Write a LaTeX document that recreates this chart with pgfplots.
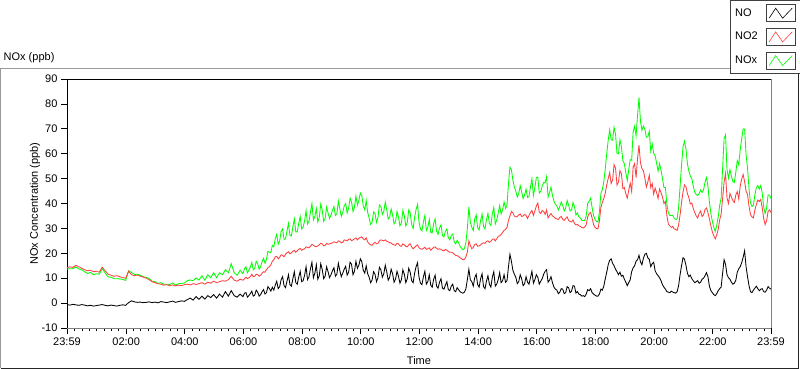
\documentclass[border=0pt]{standalone}
\usepackage{fontspec}
\setmainfont{Liberation Sans}
\usepackage{pgfplots}
\usepackage{pgfplotstable}
\pgfplotsset{compat=1.18}
\definecolor{noxgreen}{RGB}{0,255,0}
\definecolor{notwored}{RGB}{255,64,64}
\newcommand{\chartfont}{\fontsize{11}{13}\selectfont}

\pgfplotstableread{
t NO NO2 NOx
0 -0.6 14.2 13.6
6 -0.8 14.6 13.8
12 -0.5 14.3 13.8
18 -0.7 15.2 14.5
24 -0.9 14.6 13.7
30 -0.6 14.0 13.4
36 -0.8 13.4 12.6
42 -1.1 13.0 11.9
48 -0.9 13.2 12.3
54 -1.2 12.6 11.4
60 -1.0 12.8 11.8
66 -0.8 12.4 11.6
72 -0.6 14.4 13.8
78 -0.9 13.0 12.1
84 -1.1 11.6 10.5
90 -0.8 11.2 10.4
96 -1.0 10.8 9.8
102 -1.2 11.0 9.8
108 -0.9 10.6 9.7
114 -0.7 10.2 9.5
120 -0.9 10.0 9.1
126 0.2 12.8 13.0
132 0.9 11.4 12.3
138 0.5 11.0 11.5
144 0.3 11.3 11.6
150 0.4 10.8 11.2
156 0.2 10.4 10.6
162 0.3 10.0 10.3
168 0.5 9.4 9.9
174 0.2 8.6 8.8
180 0.4 8.2 8.6
186 0.1 7.8 7.9
192 0.6 7.6 8.2
198 0.4 7.2 7.6
204 0.2 7.4 7.6
210 0.5 7.0 7.5
216 0.8 7.3 8.1
222 0.3 6.9 7.2
228 0.6 7.2 7.8
234 0.9 7.0 7.9
240 0.7 7.4 8.1
246 1.4 7.6 9.0
252 2.0 7.3 9.3
258 1.2 7.8 9.0
264 2.6 7.5 10.1
270 1.5 7.8 9.3
276 2.8 8.2 11.0
282 1.6 7.6 9.2
288 3.0 8.4 11.4
294 2.2 8.0 10.2
300 3.4 8.8 12.2
306 2.0 8.2 10.2
312 3.6 8.6 12.2
318 2.4 9.0 11.4
324 4.6 8.8 13.4
330 2.8 9.4 12.2
336 5.0 10.8 15.8
342 3.0 9.2 12.2
348 2.4 8.8 11.2
354 3.6 9.6 13.2
360 2.6 9.2 11.8
363 4.0 9.8 13.8
366 4.2 10.4 14.6
369 2.4 9.8 12.2
372 3.0 10.2 13.2
375 3.8 10.6 14.4
378 4.8 11.6 16.4
381 2.8 10.6 13.4
384 3.2 10.8 14.0
387 5.2 11.6 16.8
390 4.4 11.4 15.8
393 2.8 10.8 13.6
396 3.4 11.2 14.6
399 4.6 12.0 16.6
402 5.4 12.6 18.0
405 3.6 12.4 16.0
408 4.2 13.4 17.6
411 6.6 14.2 20.8
414 5.8 14.6 20.4
417 4.8 15.4 20.2
420 6.4 16.8 23.2
423 5.2 17.4 22.6
426 7.2 18.6 25.8
429 8.8 18.8 27.6
432 5.8 17.8 23.6
435 6.6 18.4 25.0
438 9.4 19.4 28.8
441 10.6 19.2 29.8
444 7.0 18.6 25.6
447 6.2 19.6 25.8
450 8.8 20.2 29.0
453 11.4 20.6 32.0
456 7.4 19.8 27.2
459 6.8 20.2 27.0
462 9.8 20.8 30.6
465 12.6 21.2 33.8
468 8.2 20.4 28.6
471 7.6 21.0 28.6
474 10.4 21.6 32.0
477 12.8 22.0 34.8
480 8.6 21.2 29.8
483 9.0 21.6 30.6
486 11.2 21.8 33.0
489 14.6 22.6 37.2
492 9.4 22.4 31.8
495 10.6 22.2 32.8
498 13.8 22.8 36.6
501 16.4 23.6 40.0
504 10.2 23.2 33.4
507 12.0 22.8 34.8
510 15.4 22.6 38.0
513 9.6 23.0 32.6
516 11.0 23.4 34.4
519 15.8 24.0 39.8
522 13.6 23.8 37.4
525 9.8 23.0 32.8
528 10.8 23.2 34.0
531 14.6 24.0 38.6
534 12.6 23.6 36.2
537 10.2 23.8 34.0
540 11.4 24.0 35.4
543 13.0 24.2 37.2
546 14.2 24.6 38.8
549 10.8 24.4 35.2
552 11.6 24.2 35.8
555 16.0 25.0 41.0
558 13.2 24.8 38.0
561 10.6 24.2 34.8
564 12.0 24.4 36.4
567 13.6 25.4 39.0
570 14.8 25.2 40.0
573 11.2 25.0 36.2
576 12.4 25.6 38.0
579 16.4 25.8 42.2
582 15.6 25.0 40.6
585 11.4 25.4 36.8
588 12.8 25.8 38.6
591 16.8 26.2 43.0
594 14.0 25.4 39.4
597 15.2 26.0 41.2
600 17.8 26.4 44.2
603 16.6 26.6 43.2
606 13.2 25.8 39.0
609 12.0 25.4 37.4
612 15.0 26.2 41.2
615 11.8 24.6 36.4
618 10.4 23.8 34.2
621 8.2 23.4 31.6
624 9.2 23.2 32.4
627 12.6 24.0 36.6
630 11.6 24.4 36.0
633 8.6 23.8 32.4
636 10.2 24.0 34.2
639 14.4 25.0 39.4
642 13.4 25.4 38.8
645 10.4 25.2 35.6
648 11.8 25.0 36.8
651 15.2 25.4 40.6
654 12.6 24.8 37.4
657 9.2 24.6 33.8
660 10.4 24.2 34.6
663 13.6 24.2 37.8
666 11.8 23.6 35.4
669 8.4 23.4 31.8
672 9.6 23.2 32.8
675 12.8 24.0 36.8
678 10.8 23.8 34.6
681 8.0 23.0 31.0
684 9.4 22.8 32.2
687 13.4 23.8 37.2
690 11.6 23.4 35.0
693 8.2 22.8 31.0
696 9.8 22.6 32.4
699 14.0 23.4 37.4
702 12.4 23.8 36.2
705 9.0 22.6 31.6
708 8.2 21.8 30.0
711 12.0 22.4 34.4
714 14.6 23.0 37.6
717 16.2 23.4 39.6
720 10.4 22.2 32.6
723 8.0 21.8 29.8
726 7.4 21.6 29.0
729 10.6 22.0 32.6
732 12.8 22.4 35.2
735 7.6 21.6 29.2
738 8.6 21.8 30.4
741 11.4 22.2 33.6
744 7.2 21.2 28.4
747 6.4 21.8 28.2
750 9.6 22.4 32.0
753 11.2 22.6 33.8
756 6.8 22.0 28.8
759 6.0 21.6 27.6
762 8.4 21.8 30.2
765 9.8 21.6 31.4
768 6.0 21.2 27.2
771 5.6 21.0 26.6
774 7.2 21.6 28.8
777 8.6 21.2 29.8
780 5.4 20.8 26.2
783 5.0 20.4 25.4
786 6.8 20.4 27.2
789 7.6 20.2 27.8
792 5.0 19.6 24.6
795 4.6 19.2 23.8
798 6.2 19.0 25.2
801 5.4 18.8 24.2
804 4.6 18.2 22.8
807 4.2 17.8 22.0
810 4.0 17.4 21.4
813 4.4 17.6 22.0
816 5.8 18.6 24.4
819 9.6 20.6 30.2
822 13.6 25.0 38.6
825 9.4 23.2 32.6
828 8.6 21.8 30.4
831 6.8 22.4 29.2
834 10.2 23.6 33.8
837 11.6 23.8 35.4
840 7.4 22.8 30.2
843 6.4 23.0 29.4
846 9.8 23.4 33.2
849 11.8 24.0 35.8
852 6.6 24.2 30.8
855 5.8 24.0 29.8
858 8.8 24.8 33.6
861 11.0 25.0 36.0
864 7.6 24.4 32.0
867 6.4 24.8 31.2
870 10.4 25.6 36.0
873 12.6 25.8 38.4
876 6.8 25.0 31.8
879 7.6 25.8 33.4
882 9.4 26.8 36.2
885 12.2 27.0 39.2
888 8.2 27.6 35.8
891 9.0 28.4 37.4
894 11.4 29.2 40.6
897 8.4 29.6 38.0
900 9.0 30.4 39.4
903 14.6 33.2 47.8
906 19.6 35.0 54.6
909 16.8 36.8 53.6
912 13.2 36.2 49.4
915 11.6 35.0 46.6
918 10.4 34.6 45.0
921 7.8 34.8 42.6
924 8.6 35.4 44.0
927 11.4 35.8 47.2
930 9.8 34.8 44.6
933 7.0 35.0 42.0
936 7.8 35.6 43.4
939 10.6 35.2 45.8
942 8.4 34.0 42.4
945 7.6 35.2 42.8
948 10.2 36.4 46.6
951 12.8 37.2 50.0
954 8.0 35.2 43.2
957 9.4 37.0 46.4
960 11.4 39.0 50.4
963 10.4 40.2 50.6
966 7.6 36.6 44.2
969 8.8 36.0 44.8
972 9.8 37.2 47.0
975 11.6 36.8 48.4
978 12.8 35.6 48.4
981 13.4 37.4 50.8
984 8.4 34.2 42.6
987 9.2 35.2 44.4
990 10.6 36.0 46.6
993 8.2 35.0 43.2
996 6.4 34.6 41.0
999 5.6 34.0 39.6
1002 5.2 33.8 39.0
1005 3.8 33.6 37.4
1008 4.4 34.4 38.8
1011 5.8 34.8 40.6
1014 5.6 33.6 39.2
1017 3.8 33.2 37.0
1020 4.2 34.0 38.2
1023 6.6 34.6 41.2
1026 6.2 33.2 39.4
1029 4.2 32.8 37.0
1032 4.8 32.6 37.4
1035 7.0 33.4 40.4
1038 6.8 32.0 38.8
1041 4.0 31.4 35.4
1044 4.6 31.6 36.2
1047 3.6 31.0 34.6
1050 3.4 30.8 34.2
1053 2.8 30.4 33.2
1056 3.0 30.2 33.2
1059 2.6 30.6 33.2
1062 3.6 31.4 35.0
1065 5.4 34.6 40.0
1068 5.0 36.0 41.0
1071 5.8 36.4 42.2
1074 4.2 34.2 38.4
1077 3.6 31.6 35.2
1080 3.2 30.4 33.6
1083 2.8 30.0 32.8
1086 2.8 29.8 32.6
1089 3.6 33.0 36.6
1092 5.6 38.4 44.0
1095 5.2 40.4 45.6
1098 6.8 42.0 48.8
1101 9.8 44.2 54.0
1104 12.4 47.6 60.0
1107 15.4 50.0 65.4
1110 17.2 52.4 69.6
1113 17.8 48.0 65.8
1116 16.0 49.4 65.4
1119 15.0 55.6 70.6
1122 13.6 54.2 67.8
1125 12.6 47.4 60.0
1128 11.4 48.6 60.0
1131 12.4 53.2 65.6
1134 10.8 52.0 62.8
1137 11.2 46.0 57.2
1140 9.6 46.4 56.0
1143 8.4 44.0 52.4
1146 7.0 42.2 49.2
1149 8.2 45.4 53.6
1152 9.4 48.2 57.6
1155 12.6 44.8 57.4
1158 14.2 54.6 68.8
1161 15.0 56.0 71.0
1164 16.8 50.4 67.2
1167 17.4 58.0 75.4
1170 19.2 63.4 82.6
1173 16.6 56.4 73.0
1176 15.4 54.0 69.4
1179 18.0 53.2 71.2
1182 19.6 50.2 69.8
1185 20.0 46.6 66.6
1188 18.2 48.6 66.8
1191 17.6 51.4 69.0
1194 14.6 46.4 61.0
1197 15.8 48.0 63.8
1200 16.4 43.8 60.2
1203 13.0 46.2 59.2
1206 11.8 44.4 56.2
1209 11.0 42.0 53.0
1212 10.2 45.8 56.0
1215 9.0 44.4 53.4
1218 7.4 42.6 50.0
1221 6.4 40.0 46.4
1224 5.6 40.8 46.4
1227 4.6 35.2 39.8
1230 4.4 31.8 36.2
1233 4.2 31.0 35.2
1236 4.8 30.4 35.2
1239 4.4 30.8 35.2
1242 4.2 29.8 34.0
1245 4.0 29.6 33.6
1248 4.6 29.2 33.8
1251 7.0 31.4 38.4
1254 11.4 35.4 46.8
1257 15.0 40.4 55.4
1260 18.2 44.6 62.8
1263 17.6 47.4 65.0
1266 15.2 46.8 62.0
1269 12.0 44.0 56.0
1272 10.6 42.4 53.0
1275 11.2 39.8 51.0
1278 9.8 40.2 50.0
1281 9.0 38.0 47.0
1284 8.2 36.4 44.6
1287 8.6 35.0 43.6
1290 9.0 34.2 43.2
1293 8.0 36.0 44.0
1296 8.4 37.0 45.4
1299 9.6 34.8 44.4
1302 10.0 35.4 45.4
1305 11.0 37.6 48.6
1308 12.2 38.2 50.4
1311 10.6 36.4 47.0
1314 6.8 33.8 40.6
1317 5.0 31.0 36.0
1320 4.2 28.6 32.8
1323 3.4 27.0 30.4
1326 3.0 25.8 28.8
1329 3.8 27.4 31.2
1332 5.0 29.6 34.6
1335 5.8 33.4 39.2
1338 6.4 35.8 42.2
1341 12.0 42.0 54.0
1344 17.4 48.6 66.0
1347 15.6 52.0 67.6
1350 11.4 42.2 53.6
1353 10.2 40.0 50.2
1356 9.6 44.0 53.6
1359 8.4 42.6 51.0
1362 7.6 41.2 48.8
1365 8.0 40.4 48.4
1368 9.2 43.4 52.6
1371 12.4 44.8 57.2
1374 13.8 41.8 55.6
1377 14.6 47.0 61.6
1380 16.2 49.8 66.0
1383 18.4 51.6 70.0
1386 21.0 48.8 69.8
1389 14.6 45.0 59.6
1392 10.6 43.6 54.2
1395 7.0 39.0 46.0
1398 4.6 35.6 40.2
1401 4.2 34.6 38.8
1404 5.2 34.2 39.4
1407 6.0 37.4 43.4
1410 6.8 39.6 46.4
1413 5.8 41.4 47.2
1416 5.0 40.8 45.8
1419 5.6 41.6 47.2
1422 5.8 38.4 44.2
1425 4.6 34.0 38.6
1428 4.4 31.6 36.0
1431 5.2 33.0 38.2
1434 6.6 36.8 43.4
1437 6.0 37.4 43.4
1440 5.6 36.4 42.0
}\datatable

\begin{document}
\begin{tikzpicture}
\useasboundingbox (0pt,0pt) rectangle (800pt,369pt);
\fill[white] (0pt,0pt) rectangle (800pt,369pt);
\draw[black!40, line width=0.8pt] (730pt,301pt) -- (0.5pt,301pt) -- (0.5pt,0.5pt);
\draw[black!85, line width=0.8pt] (0.5pt,0.6pt) -- (798.8pt,0.6pt) -- (798.8pt,299pt);
\node[anchor=west, font=\chartfont, inner sep=0pt] at (3.5pt,311pt) {NOx (ppb)};
\begin{axis}[
  at={(67pt,41pt)}, anchor=south west,
  scale only axis, width=704pt, height=249pt,
  xmin=0, xmax=1440, ymin=-10, ymax=90,
  axis x line*=bottom, axis y line*=left,
  x axis line style={black!50, line width=0.8pt},
  y axis line style={black, line width=0.8pt},
  xtick={0,121,241,361,481,601,721,841,961,1081,1201,1321,1440},
  xticklabels={23:59,02:00,04:00,06:00,08:00,10:00,12:00,14:00,16:00,18:00,20:00,22:00,23:59},
  minor xtick={16,31,...,1426},
  ytick={-10,0,...,90},
  tick align=outside,
  major tick length=6pt, minor tick length=3pt,
  every tick/.style={black, line width=0.8pt},
  /pgf/number format/assume math mode=true,
  tick label style={font=\chartfont},
  xlabel={Time}, ylabel={NOx Concentration (ppb)},
  label style={font=\chartfont},
  xlabel style={at={(axis description cs:0.5,-0.1305)}, anchor=center},
  ylabel style={at={(axis description cs:-0.0455,0.5)}, anchor=center},
  legend plot pos=right, reverse legend, legend cell align=left,
  legend style={at={(1.0417,1.3173)}, anchor=north east, draw=black!75, fill=white,
    line width=0.7pt, font=\chartfont, inner xsep=4.5pt, inner ysep=4pt, row sep=6pt,
    nodes={inner sep=0pt},
    /tikz/every odd column/.append style={column sep=8pt}},
  legend image code/.code={
    \draw[draw=black!75, fill=white, line width=0.7pt, solid] (0pt,-8.5pt) rectangle (29pt,8.5pt);
    \draw[#1, line width=0.6pt] (3pt,-5pt) -- (9.5pt,5pt) -- (16.5pt,-5pt) -- (26pt,5pt);
  },
  after end axis/.code={
    \draw[black, line width=0.8pt] (rel axis cs:0,1) -- (rel axis cs:1,1);
    \draw[black!50, line width=0.8pt] (rel axis cs:1,1) -- (rel axis cs:1,0);
  },
]
\addplot[noxgreen, line width=0.85pt] table[x=t,y=NOx]{\datatable};
\addlegendentry{NOx}
\addplot[notwored, line width=0.85pt] table[x=t,y=NO2]{\datatable};
\addlegendentry{NO2}
\addplot[black, line width=0.85pt] table[x=t,y=NO]{\datatable};
\addlegendentry{NO}
\end{axis}
\end{tikzpicture}
\end{document}
